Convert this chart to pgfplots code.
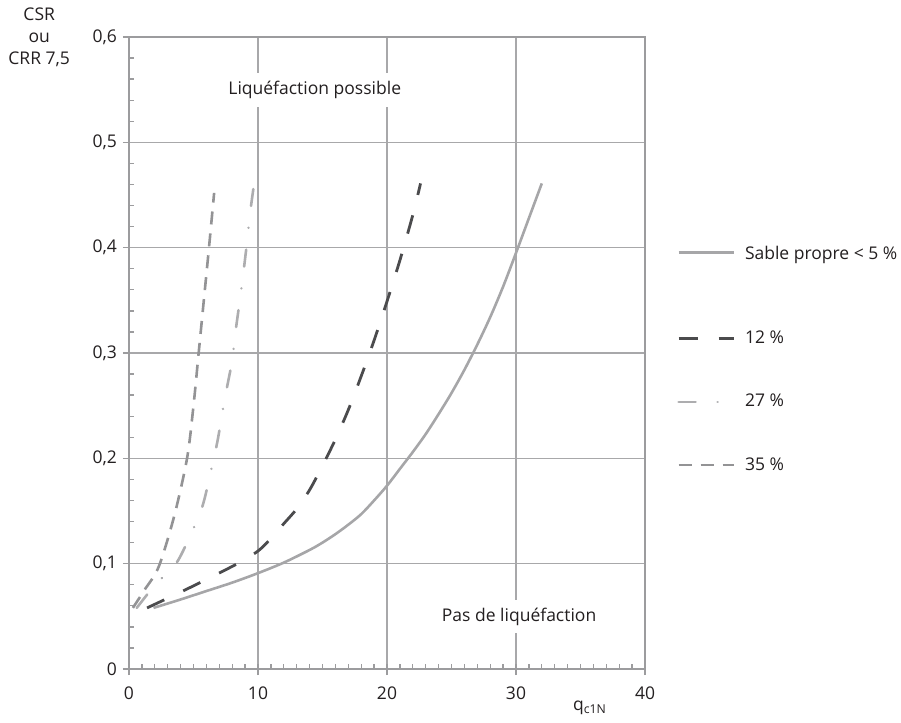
\documentclass[border=0pt]{standalone}
\usepackage{fontspec}
\setmainfont{Open Sans}
\usepackage{pgfplots}
\pgfplotsset{compat=1.18}
\pgfplotsset{firstleg/.style={legend image code/.code={\draw[##1] (0pt,12pt) -- (55pt,12pt);}}}
\definecolor{gridc}{HTML}{A8A8AA}
\definecolor{axisc}{HTML}{9C9C9E}
\definecolor{txt}{HTML}{231F20}
\definecolor{c0}{HTML}{A6A6A8}
\definecolor{c12}{HTML}{4B4B4D}
\definecolor{c27}{HTML}{ADADAF}
\definecolor{c35}{HTML}{939395}
\begin{document}
\fontsize{17.5}{22}\selectfont
\begin{tikzpicture}
\path[use as bounding box] (0,0) rectangle (901pt,722pt);
\begin{axis}[
  at={(129pt,53pt)}, anchor=south west,
  scale only axis, width=516pt, height=632pt,
  xmin=0, xmax=40, ymin=0, ymax=0.6,
  clip=false,
  axis line style={axisc, line width=1.3pt},
  xtick={0,10,20,30,40}, xticklabels={0,10,20,30,40},
  ytick={0,0.1,0.2,0.3,0.4,0.5,0.6},
  yticklabels={0,{0,1},{0,2},{0,3},{0,4},{0,5},{0,6}},
  tick align=outside, major tick length=6pt,
  xtick pos=bottom, ytick pos=left,
  tick style={axisc, line width=1.3pt},
  tick label style={text=txt, font=\fontsize{17.5}{22}\selectfont},
  xticklabel style={yshift=-6pt},
  grid=major, major grid style={gridc, line width=1.2pt},
  extra x ticks={1,2,...,39},
  extra x tick labels={},
  extra x tick style={grid=none, tick align=inside, major tick length=5pt},
  extra y ticks={0.02,0.04,0.06,0.08,0.12,0.14,0.16,0.18,0.22,0.24,0.26,0.28,0.32,0.34,0.36,0.38,0.42,0.44,0.46,0.48,0.52,0.54,0.56,0.58},
  extra y tick labels={},
  extra y tick style={grid=none, tick align=inside, major tick length=5pt},
  legend style={draw=none, fill=none, at={(1.0562,0.675)}, anchor=north west,
    row sep=44pt, font=\fontsize{17.5}{22}\selectfont, text=txt,
    /tikz/every odd column/.append style={column sep=8pt}},
  legend cell align=left,
  legend image code/.code={\draw[#1] (0pt,0pt) -- (55pt,0pt);},
]
\addplot[c0, line width=2.6pt, smooth, firstleg] coordinates {
(1.9,0.058) (4,0.066) (6,0.074) (8,0.082) (10,0.091) (12,0.101) (14,0.113)
(15,0.120) (16,0.128) (17,0.137) (18,0.147) (19,0.160) (20,0.174) (21,0.19) (22,0.206)
(23,0.223) (24,0.242) (25,0.262) (26,0.284) (27,0.308) (28,0.334) (29,0.363)
(30,0.395) (31,0.428) (32,0.461)};
\addlegendentry[text depth=23pt]{Sable propre < 5 \%}
\addplot[c12, line width=2.8pt, dash pattern=on 19pt off 21pt, smooth] coordinates {
(1.4,0.058) (4,0.073) (6,0.085) (8.4,0.1) (10,0.112) (11,0.124) (12,0.138)
(13,0.152) (14,0.170) (15,0.193) (16,0.218) (17,0.246) (18,0.278) (19,0.312)
(20,0.349) (21,0.388) (22,0.431) (22.6,0.461)};
\addlegendentry{12 \%}
\addplot[c27, line width=2.6pt, line cap=round, dash pattern=on 17pt off 22pt on 0.01pt off 22pt, smooth] coordinates {
(0.6,0.058) (1.5,0.072) (2.6,0.087) (3.8,0.103) (5.2,0.139) (5.8,0.159)
(6.5,0.196) (6.9,0.219) (7.4,0.255) (8.0,0.293) (8.2,0.315) (8.7,0.36)
(9.1,0.4) (9.4,0.434) (9.7,0.461)};
\addlegendentry{27 \%}
\addplot[c35, line width=2.6pt, dash pattern=on 13pt off 9pt, smooth] coordinates {
(0.3,0.058) (1.2,0.075) (2.3,0.097) (3.5,0.145) (4.5,0.2) (5.0,0.25)
(5.4,0.3) (5.8,0.35) (6.2,0.4) (6.6,0.452)};
\addlegendentry{35 \%}
\node[fill=white, inner xsep=4pt, inner ysep=8pt, text=txt] at (rel axis cs:0.360,0.916) {Liquéfaction possible};
\node[fill=white, inner xsep=4pt, inner ysep=8pt, text=txt] at (rel axis cs:0.756,0.083) {Pas de liquéfaction};
\node[text=txt] at (rel axis cs:0.893,-0.0617) {q\textsubscript{c1N}};
\node[text=txt, align=center, font=\fontsize{17.5}{22}\selectfont] at (rel axis cs:-0.174,1.0) {CSR\\ou\\CRR 7,5};
\end{axis}
\end{tikzpicture}
\end{document}
